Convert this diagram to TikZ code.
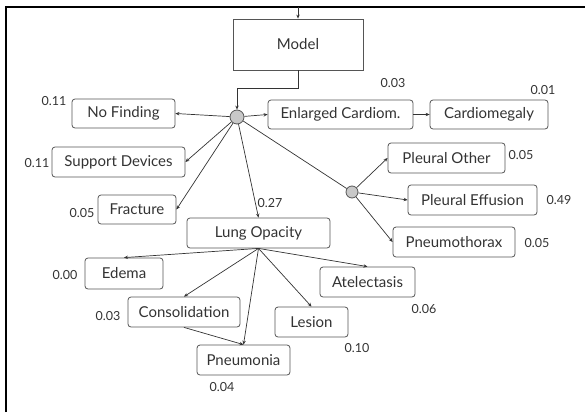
\documentclass[tikz,border=0pt]{standalone}
\usepackage{fontspec}
\setmainfont{Lato}
\usetikzlibrary{arrows.meta}

\definecolor{edge}{HTML}{555555}
\definecolor{ink}{HTML}{333333}
\definecolor{dot}{HTML}{C8C8C8}

\tikzset{
  label box/.style={draw=edge, line width=0.8pt, rounded corners=3pt, minimum height=30pt, inner sep=0pt, text=ink, font=\fontsize{15}{18}\selectfont},
  prob/.style={text=ink, inner sep=0pt, font=\fontsize{12.5}{15}\selectfont},
  hub dot/.style={circle, draw=edge, fill=dot, line width=0.8pt, inner sep=0pt},
  link/.style={draw=ink, line width=0.7pt, -{Stealth[length=4pt,width=3.4pt]}}
}

\begin{document}
\begin{tikzpicture}[x=1pt, y=-1pt]
\useasboundingbox (0,0) rectangle (585,412);

% Frame
\draw[line width=2.5pt] (6,412) -- (6,7) -- (585,7);

% Model
\coordinate (input) at (298,7);
\node[draw=edge, line width=0.8pt, minimum width=130pt, minimum height=51pt, text=ink, font=\fontsize{15}{18}\selectfont] (model) at (298,44.5) {Model};
\node[hub dot, minimum size=14pt] (hub) at (237,117) {};

% First level
\node[label box, minimum width=103pt, minimum height=29pt] (nofind) at (123.5,113.5) {No Finding};
\node[prob] at (54,101) {0.11};

\node[label box, minimum width=145pt, minimum height=29pt] (enlarged) at (340.5,114.5) {Enlarged Cardiom.};
\node[prob] at (393,83) {0.03};

\node[label box, minimum width=118pt, minimum height=29pt] (cardio) at (489,114.5) {Cardiomegaly};
\node[prob] at (543,90) {0.01};

\node[label box, minimum width=133pt] (support) at (118.5,162) {Support Devices};
\node[prob] at (37,163) {0.11};

\node[label box, minimum width=78pt, minimum height=29pt] (fracture) at (137,209.5) {Fracture};
\node[prob] at (82,213) {0.05};

\node[label box, minimum width=143pt] (lungop) at (258.5,233) {Lung Opacity};
\node[prob] at (270,203) {0.27};

% Pleural group
\node[hub dot, minimum size=12pt] (pleura) at (352,192) {};

\node[label box, minimum width=117pt] (pother) at (446.5,158) {Pleural Other};
\node[prob] at (521,155) {0.05};

\node[label box, minimum width=129pt] (peffusion) at (472.5,200) {Pleural Effusion};
\node[prob] at (559,200) {0.49};

\node[label box, minimum width=122pt] (pthorax) at (454,242) {Pneumothorax};
\node[prob] at (537,243) {0.05};

% Under lung opacity
\node[label box, minimum width=78pt, minimum height=31pt] (edema) at (124,273.5) {Edema};
\node[prob] at (65,275) {0.00};

\node[label box, minimum width=112pt] (consol) at (184,312) {Consolidation};
\node[prob] at (108,316) {0.03};

\node[label box, minimum width=93pt] (pneumonia) at (243.5,360) {Pneumonia};
\node[prob] at (222,387) {0.04};

\node[label box, minimum width=73pt] (lesion) at (311.5,322) {Lesion};
\node[prob] at (357,348) {0.10};

\node[label box, minimum width=95pt] (atelect) at (367.5,282) {Atelectasis};
\node[prob] at (424,309) {0.06};

% Arrows
\draw[link] (input) -- (model.north);
\draw[link] (model.south) -- ++(0,18) -| (hub.north);
\draw[link] (hub) -- (nofind.east);
\draw[link] (hub) -- (enlarged.west);
\draw[link] (enlarged.east) -- (cardio.west);
\draw[link] (hub) -- (support.east);
\draw[link] (hub) -- (fracture.east);
\draw[link] (hub) -- (lungop.north);
\draw[draw=ink, line width=0.7pt] (hub) -- (pleura);
\draw[link] (pleura) -- (pother.west);
\draw[link] (pleura) -- (peffusion.west);
\draw[link] (pleura) -- (pthorax.west);
\draw[link] (lungop.south) -- (edema.north);
\draw[link] (lungop.south) -- (consol.north);
\draw[link] (lungop.south) -- (pneumonia.north);
\draw[link] (lungop.south) -- (lesion.north);
\draw[link] (lungop.south) -- (atelect.north);
\draw[link] (consol.south) -- (pneumonia.north);

\end{tikzpicture}
\end{document}
